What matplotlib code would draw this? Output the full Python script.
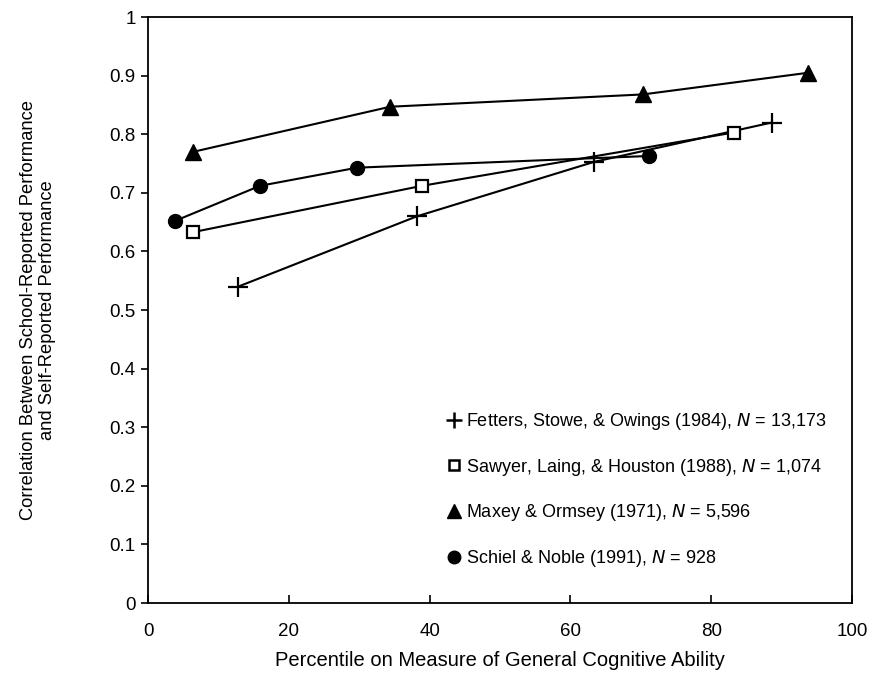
import matplotlib
matplotlib.use('Agg')
import matplotlib.pyplot as plt
from matplotlib.lines import Line2D

plt.rcParams['font.family'] = ['Liberation Sans', 'DejaVu Sans']

# Fetters, Stowe, & Owings (1984)
fetters_x = [12.8, 38.2, 63.4, 88.6]
fetters_y = [0.54, 0.66, 0.753, 0.82]
# Sawyer, Laing, & Houston (1988)
sawyer_x = [6.4, 38.9, 83.2]
sawyer_y = [0.633, 0.712, 0.803]
# Maxey & Ormsey (1971)
maxey_x = [6.4, 34.4, 70.3, 93.8]
maxey_y = [0.77, 0.847, 0.868, 0.905]
# Schiel & Noble (1991)
schiel_x = [3.8, 15.9, 29.7, 71.2]
schiel_y = [0.652, 0.712, 0.743, 0.763]

labels = ['Fetters, Stowe, & Owings (1984), $\\it{N}$ = 13,173',
          'Sawyer, Laing, & Houston (1988), $\\it{N}$ = 1,074',
          'Maxey & Ormsey (1971), $\\it{N}$ = 5,596',
          'Schiel & Noble (1991), $\\it{N}$ = 928']

fig = plt.figure(figsize=(8.81, 6.83), dpi=100)
ax = fig.add_axes([0.168, 0.117, 0.799, 0.858])

ax.plot(fetters_x, fetters_y, color='black', lw=1.5, marker='+', ms=14, mew=1.6)
ax.plot(sawyer_x, sawyer_y, color='black', lw=1.5, marker='s', ms=8,
        mfc='white', mec='black', mew=1.6)
ax.plot(maxey_x, maxey_y, color='black', lw=1.5, marker='^', ms=11)
ax.plot(schiel_x, schiel_y, color='black', lw=1.5, marker='o', ms=10)

ax.set_xlim(0, 100)
ax.set_ylim(0, 1)
ax.set_xticks([0, 20, 40, 60, 80, 100])
ax.set_yticks([0, 0.1, 0.2, 0.3, 0.4, 0.5, 0.6, 0.7, 0.8, 0.9, 1])
ax.set_yticklabels(['0', '0.1', '0.2', '0.3', '0.4', '0.5', '0.6', '0.7', '0.8', '0.9', '1'])
ax.tick_params(axis='x', direction='in', length=6, width=1.2, labelsize=13.5, pad=14)
ax.tick_params(axis='y', direction='out', length=5, width=1.2, labelsize=13.5, pad=4)
for sp in ax.spines.values():
    sp.set_linewidth(1.3)

ax.set_xlabel('Percentile on Measure of General Cognitive Ability', fontsize=14.5, labelpad=8)
ax.set_ylabel('Correlation Between School-Reported Performance\nand Self-Reported Performance',
              fontsize=13.2, labelpad=38, linespacing=1.2)

handles = [
    Line2D([], [], ls='none', color='black', marker='+', ms=11, mew=1.8),
    Line2D([], [], ls='none', marker='s', ms=7.5, mfc='white', mec='black', mew=1.8),
    Line2D([], [], ls='none', color='black', marker='^', ms=10),
    Line2D([], [], ls='none', color='black', marker='o', ms=9),
]
ax.legend(handles, labels, loc='upper left', bbox_to_anchor=(0.4245, 0.328),
          frameon=False, fontsize=13, handlelength=0.8, handletextpad=0.25,
          labelspacing=1.37, borderpad=0, borderaxespad=0)

fig.savefig('out.png', dpi=100)
